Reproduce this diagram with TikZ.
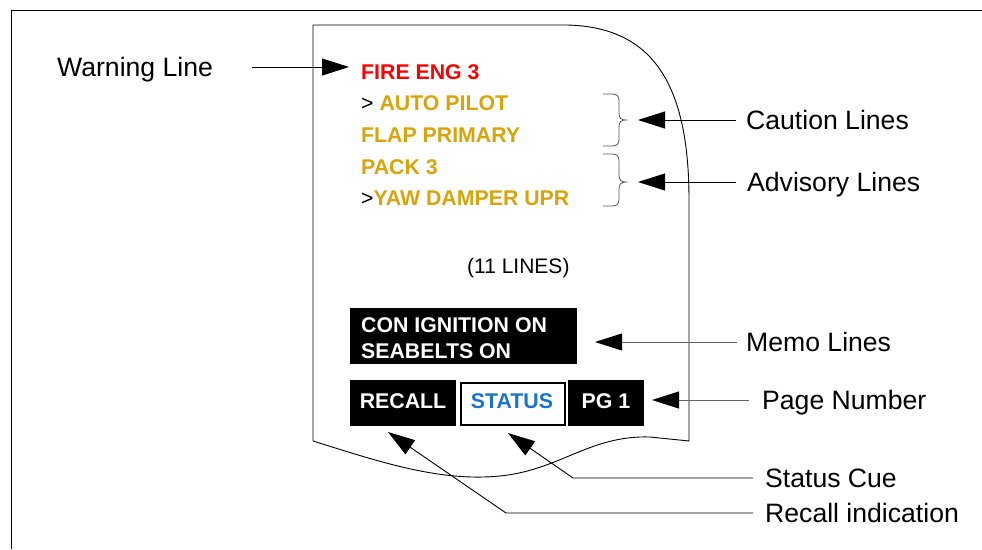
\documentclass[tikz,border=0pt]{standalone}
\usepackage{fontspec}
\setmainfont{Liberation Sans}
\usetikzlibrary{arrows.meta}
\definecolor{warnred}{RGB}{255,0,0}
\definecolor{gold}{RGB}{217,163,10}
\definecolor{statblue}{RGB}{24,116,200}
\definecolor{lgray}{RGB}{100,100,100}
\definecolor{bgray}{RGB}{85,85,85}
\begin{document}
\begin{tikzpicture}[x=1pt,y=-1pt,
 lbl/.style={font=\fontsize{26.6}{30}\selectfont, anchor=base west, inner sep=0},
 itm/.style={font=\fontsize{21.3}{25}\selectfont\bfseries, anchor=base west, inner sep=0},
 ptr/.style={line width=0.9pt, -{Triangle[length=27pt,width=17pt,color=black]}},
 blk/.style={fill=black, inner sep=0, anchor=north west},
 brc/.style={draw=bgray, line width=0.8pt},
 edge/.style={line width=0.9pt}
]
\useasboundingbox (0,0) rectangle (982,549);
\draw[edge] (11,549) -- (11,10) -- (982,10);
% page outline
\draw[edge] (313,441) -- (313,25) -- (567,25) .. controls (650,27) and (689,80) .. (689,200) -- (689,441)
  -- (650,437) .. controls (590,435) and (560,470) .. (500,476) .. controls (440,482) and (380,462) .. (313,441);
% message lines
\node[itm, text=warnred] (fire) at (361,79) {FIRE ENG 3};
\node[itm] (auto) at (361,110) {{\mdseries >} \textcolor{gold}{AUTO PILOT}};
\node[itm, text=gold] (flap) at (361,142) {FLAP PRIMARY};
\node[itm, text=gold] (pack) at (361,174) {PACK 3};
\node[itm] (yaw) at (361,205) {{\mdseries >}\textcolor{gold}{YAW DAMPER UPR}};
\node[itm, font=\fontsize{21}{25}\selectfont] (eleven) at (467,273) {(11 LINES)};
% memo box
\node[blk, minimum width=227, minimum height=56] (memo) at (350,308) {};
\node[itm, text=white] (con) at (361,332) {CON IGNITION ON};
\node[itm, text=white] (seat) at (361,358) {SEABELTS ON};
% buttons
\node[blk, minimum width=106, minimum height=46] (recall) at (350,380) {};
\node[itm, text=white, anchor=base] (recallT) at (403,408) {RECALL};
\node[draw=black, line width=2pt, fill=white, inner sep=0, minimum width=104, minimum height=42, anchor=north west] (status) at (460,382) {};
\node[itm, text=statblue, anchor=base] (statusT) at (512,408) {STATUS};
\node[blk, minimum width=76, minimum height=46] (pg) at (568,380) {};
\node[itm, text=white, anchor=base] (pgT) at (606,408) {PG 1};
% braces
\draw[brc] (603,94) -- (612,94) .. controls (617,94) and (619,96) .. (619,101) -- (619,113)
  .. controls (619,118) and (621,120) .. (626,120) .. controls (621,120) and (619,122) .. (619,127)
  -- (619,139) .. controls (619,144) and (617,146) .. (612,146) -- (603,146);
\draw[brc] (603,154) -- (612,154) .. controls (617,154) and (619,156) .. (619,161) -- (619,175)
  .. controls (619,180) and (621,182) .. (626,182) .. controls (621,182) and (619,184) .. (619,189)
  -- (619,199) .. controls (619,204) and (617,206) .. (612,206) -- (603,206);
% labels
\node[lbl] (warnL) at (57,76) {Warning Line};
\node[lbl] (cautL) at (746,129) {Caution Lines};
\node[lbl] (advL) at (747,191) {Advisory Lines};
\node[lbl] (memoL) at (746,351) {Memo Lines};
\node[lbl] (pageL) at (762,409) {Page Number};
\node[lbl] (statL) at (765,487) {Status Cue};
\node[lbl] (recL) at (765,522) {Recall indication};
% connector coordinates
\coordinate (w0) at (252,67);   \coordinate (wT) at (349,67);
\coordinate (c0) at (736,120);  \coordinate (cT) at (638,120);
\coordinate (a0) at (736,182);  \coordinate (aT) at (638,182);
\coordinate (m0) at (737,342);  \coordinate (mT) at (595,342);
\coordinate (p0) at (749,400);  \coordinate (pT) at (652,400);
\coordinate (s0) at (753,478);  \coordinate (s1) at (573,478); \coordinate (sT) at (508,433);
\coordinate (r0) at (753,513);  \coordinate (r1) at (506,513); \coordinate (rT) at (388,432);
\draw[ptr] (w0) -- (wT);
\draw[ptr] (c0) -- (cT);
\draw[ptr] (a0) -- (aT);
\draw[ptr, draw=lgray] (m0) -- (mT);
\draw[ptr, draw=lgray] (p0) -- (pT);
\draw[ptr] (s0) -- (s1) -- (sT);
\draw[ptr] (r0) -- (r1) -- (rT);
\end{tikzpicture}
\end{document}
